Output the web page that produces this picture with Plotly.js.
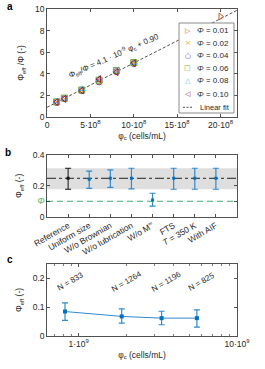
<!DOCTYPE html>
<html><head><meta charset="utf-8">
<script src="https://cdn.plot.ly/plotly-3.0.1.min.js"></script>
<style>html,body{margin:0;padding:0;background:#fff}#chart{width:265px;height:369px}</style>
</head><body><div id="chart"></div>
<script>
// ---------- Panel a data ----------
const phiLevels = [0.01, 0.02, 0.04, 0.06, 0.08, 0.10];
const phiC_01 = [2.0e9];
const phiEffRatio_01 = [9.3];
const phiC_groups = [1.1e8, 2.0e8, 4.0e8, 6.0e8, 8.0e8, 1.0e9];
const phiEffRatio_02 = [1.42, 1.72, 2.48, 3.30, 4.25, 5.00];
const phiEffRatio_04 = [1.35, 1.70, 2.45, 3.25, 4.20, 4.95];
const phiEffRatio_06 = [1.40, 1.75, 2.50, 3.40, 4.30, 5.05];
const phiEffRatio_08 = [1.45, 1.72, 2.60, 3.55, 4.30, 5.00];
const phiEffRatio_10 = [1.38, 1.68, 2.45, 3.50, 4.15, 4.98];
const fitSlope = 4.1e-9;
const fitIntercept = 0.90;
const fitX = [0, 2.19e9];
const aXTickVals = [0, 5e8, 1e9, 1.5e9, 2e9];
const aXTickText = ['0', '5·10<sup>8</sup>', '10·10<sup>8</sup>', '15·10<sup>8</sup>', '20·10<sup>8</sup>'];

// ---------- Panel b data ----------
const bCategories = ['Reference', 'Uniform size', 'W/o Brownian', 'W/o lubrication', 'W/o M<sup>∞</sup>', 'FTS', '<i>T</i> = 350 K', 'With AIF'];
const bPhiEff = [0.249, 0.242, 0.249, 0.249, 0.108, 0.249, 0.249, 0.249];
const bUpper  = [0.314, 0.296, 0.303, 0.314, 0.152, 0.314, 0.314, 0.314];
const bLower  = [0.178, 0.184, 0.190, 0.180, 0.069, 0.178, 0.178, 0.178];
const bRefMean = 0.249;
const bRefLow = 0.178;
const bRefHigh = 0.314;
const bPhi = 0.10;

// ---------- Panel c data ----------
const cPhiC = [8.2e8, 1.87e9, 3.34e9, 5.58e9];
const cPhiEff = [0.085, 0.068, 0.062, 0.062];
const cUpper = [0.115, 0.0945, 0.086, 0.091];
const cLower = [0.054, 0.045, 0.039, 0.031];
const cN = [833, 1264, 1196, 825];

// ---------- styles ----------
const FONT = 'Liberation Sans, Arial, Helvetica, sans-serif';
const TXT = '#262626';
const AX = '#262626';
const BLUE = '#0072BD';
const EBLUE = '#2F8AD0';
const GREEN = '#3DAE72';
const seriesStyle = [
  {color: '#D95319', symbol: 'triangle-right-open', glyph: '▷'},
  {color: '#EDB120', symbol: 'x-thin-open', glyph: '×'},
  {color: '#7E2F8E', symbol: 'circle-open', glyph: '○'},
  {color: '#77AC30', symbol: 'square-open', glyph: '□'},
  {color: '#4DBEEE', symbol: 'triangle-up-open', glyph: '△'},
  {color: '#A2142F', symbol: 'triangle-left-open', glyph: '◁'}
];
const W = 265, H = 369;
const px = v => v / W;
const py = v => 1 - v / H;
const xDom = [px(47), px(237)];

const seriesX = [phiC_01, phiC_groups, phiC_groups, phiC_groups, phiC_groups, phiC_groups];
const seriesY = [phiEffRatio_01, phiEffRatio_02, phiEffRatio_04, phiEffRatio_06, phiEffRatio_08, phiEffRatio_10];

const traces = [];
traces.push({
  x: fitX, y: fitX.map(v => fitSlope * v + fitIntercept),
  mode: 'lines', xaxis: 'x', yaxis: 'y', showlegend: false,
  line: {color: '#222', width: 0.8, dash: '3px,2px'}, hoverinfo: 'skip'
});
phiLevels.forEach((p, i) => {
  traces.push({
    x: seriesX[i], y: seriesY[i], mode: 'markers', xaxis: 'x', yaxis: 'y', showlegend: false,
    marker: {symbol: seriesStyle[i].symbol, size: 6, color: seriesStyle[i].color,
             line: {color: seriesStyle[i].color, width: 1}}
  });
});

// panel b
const blueIdx = bCategories.map((c, i) => i).filter(i => i > 0);
traces.push({
  x: [bCategories[0]], y: [bPhiEff[0]], mode: 'markers', xaxis: 'x2', yaxis: 'y2', showlegend: false,
  marker: {symbol: 'square', size: 3, color: '#111'},
  error_y: {type: 'data', symmetric: false, array: [bUpper[0] - bPhiEff[0]], arrayminus: [bPhiEff[0] - bLower[0]],
            color: '#111', thickness: 1, width: 3}
});
traces.push({
  x: blueIdx.map(i => bCategories[i]), y: blueIdx.map(i => bPhiEff[i]), mode: 'markers',
  xaxis: 'x2', yaxis: 'y2', showlegend: false,
  marker: {symbol: 'square', size: 3, color: BLUE},
  error_y: {type: 'data', symmetric: false,
            array: blueIdx.map(i => bUpper[i] - bPhiEff[i]),
            arrayminus: blueIdx.map(i => bPhiEff[i] - bLower[i]),
            color: EBLUE, thickness: 1.2, width: 3}
});

// panel c
traces.push({
  x: cPhiC, y: cPhiEff, mode: 'lines+markers', xaxis: 'x3', yaxis: 'y3', showlegend: false,
  line: {color: EBLUE, width: 1},
  marker: {symbol: 'square', size: 4, color: BLUE},
  error_y: {type: 'data', symmetric: false,
            array: cUpper.map((u, i) => u - cPhiEff[i]),
            arrayminus: cLower.map((l, i) => cPhiEff[i] - l),
            color: EBLUE, thickness: 1.2, width: 3}
});

const axBase = {
  showline: true, linecolor: AX, linewidth: 0.8, mirror: 'ticks', ticks: 'inside', ticklen: 3,
  tickwidth: 0.8, tickcolor: AX, showgrid: false, zeroline: false,
  tickfont: {family: FONT, size: 8.5, color: TXT}
};
const titleFont = {family: FONT, size: 8.5, color: TXT};

const minorVals = [];
[8, 9].forEach(d => { for (let k = 2; k <= 9; k++) minorVals.push(k * Math.pow(10, d)); });

const annotations = [];
// panel letters
[['a', 10, 7], ['b', 8, 153], ['c', 10, 259]].forEach(([t, x, y]) => annotations.push({
  text: '<b>' + t + '</b>', x: px(x), y: py(y), xref: 'paper', yref: 'paper', showarrow: false,
  xanchor: 'center', yanchor: 'middle', font: {family: FONT, size: 10, color: '#000'}
}));
// equation
annotations.push({
  text: 'Φ<sub>eff</sub>/Φ = ' + (fitSlope * 1e9).toFixed(1) + ' · 10<sup>-9</sup> φ<sub>c</sub> + ' + fitIntercept.toFixed(2),
  x: px(114), y: py(56), xref: 'paper', yref: 'paper', showarrow: false, textangle: -24,
  xanchor: 'center', yanchor: 'middle',
  font: {family: FONT, size: 8, color: TXT}
});
// legend (manual)
const legRows = [30.7, 43.3, 55.7, 68.3, 81, 94, 107.3];
phiLevels.forEach((p, i) => {
  annotations.push({text: seriesStyle[i].glyph, x: px(187.5), y: py(legRows[i]), xref: 'paper', yref: 'paper',
    showarrow: false, xanchor: 'center', yanchor: 'middle',
    font: {family: 'DejaVu Sans, sans-serif', size: 7, color: seriesStyle[i].color}});
  annotations.push({text: '<i>Φ</i> = ' + p.toFixed(2), x: px(195), y: py(legRows[i]), xref: 'paper', yref: 'paper',
    showarrow: false, xanchor: 'left', yanchor: 'middle', font: {family: FONT, size: 8, color: TXT}});
});
annotations.push({text: 'Linear fit', x: px(198.5), y: py(legRows[6]), xref: 'paper', yref: 'paper',
  showarrow: false, xanchor: 'left', yanchor: 'middle', font: {family: FONT, size: 7.5, color: TXT}});
// N labels
cN.forEach((n, i) => annotations.push({
  text: 'N = ' + n, x: Math.log10(cPhiC[i]), y: 0.19, xref: 'x3', yref: 'y3', showarrow: false,
  textangle: -30, xshift: 5, font: {family: FONT, size: 8, color: TXT}
}));

const shapes = [
  {type: 'rect', xref: 'x2 domain', yref: 'y2', x0: 0, x1: 1, y0: bRefLow, y1: bRefHigh,
   fillcolor: '#dedede', line: {width: 0}, layer: 'below'},
  {type: 'line', xref: 'x2 domain', yref: 'y2', x0: 0, x1: 1, y0: bRefMean, y1: bRefMean,
   line: {color: '#222', width: 1, dash: 'dashdot'}, layer: 'below'},
  {type: 'line', xref: 'x2 domain', yref: 'y2', x0: 0, x1: 1, y0: bPhi, y1: bPhi,
   line: {color: GREEN, width: 1, dash: '6px,4px'}, layer: 'below'},
  {type: 'rect', xref: 'paper', yref: 'paper', x0: px(179), x1: px(234), y0: py(113), y1: py(23),
   fillcolor: '#fff', line: {color: '#8a8a8a', width: 1}, layer: 'above'},
  {type: 'line', xref: 'paper', yref: 'paper', x0: px(183), x1: px(192), y0: py(legRows[6]), y1: py(legRows[6]),
   line: {color: '#222', width: 0.8, dash: '2px,1.5px'}, layer: 'above'}
];

const layout = {
  width: W, height: H, margin: {l: 0, r: 0, t: 0, b: 0},
  paper_bgcolor: '#fff', plot_bgcolor: '#fff', showlegend: false,
  font: {family: FONT, size: 8.5, color: TXT},
  xaxis: Object.assign({}, axBase, {domain: xDom, anchor: 'y', range: [0, 2.19e9],
    tickmode: 'array', tickvals: aXTickVals, ticktext: aXTickText,
    title: {text: 'φ<sub>c</sub> (cells/mL)', font: titleFont, standoff: 3}}),
  yaxis: Object.assign({}, axBase, {domain: [py(117), py(9)], anchor: 'x', range: [0, 10], dtick: 2,
    title: {text: 'Φ<sub>eff</sub> /Φ (-)', font: titleFont, standoff: 8}}),
  xaxis2: Object.assign({}, axBase, {domain: xDom, anchor: 'y2', type: 'category', range: [-1, 8],
    tickangle: -30, categoryorder: 'array', categoryarray: bCategories}),
  yaxis2: Object.assign({}, axBase, {domain: [py(216.7), py(155)], anchor: 'x2', range: [0, 0.4],
    tickmode: 'array', tickvals: [0, bPhi, 0.2, 0.4],
    ticktext: ['0', '<span style="color:' + GREEN + '"><i>Φ</i></span>', '0.2', '0.4'],
    title: {text: 'Φ<sub>eff</sub> (-)', font: titleFont, standoff: 8}}),
  xaxis3: Object.assign({}, axBase, {domain: xDom, anchor: 'y3', type: 'log', range: [8.8, 10],
    tickmode: 'array', tickvals: [1e9, 1e10], ticktext: ['1·10<sup>9</sup>', '10·10<sup>9</sup>'],
    minor: {tickmode: 'array', tickvals: minorVals, ticks: 'inside', ticklen: 2, tickcolor: AX, tickwidth: 0.6},
    title: {text: 'φ<sub>c</sub> (cells/mL)', font: titleFont, standoff: 3}}),
  yaxis3: Object.assign({}, axBase, {domain: [py(336), py(264)], anchor: 'x3', range: [0, 0.25],
    tickmode: 'array', tickvals: [0, 0.1, 0.2],
    title: {text: 'Φ<sub>eff</sub> (-)', font: titleFont, standoff: 8}}),
  annotations: annotations, shapes: shapes
};

Plotly.newPlot('chart', traces, layout, {staticPlot: true, displayModeBar: false});
</script></body></html>
